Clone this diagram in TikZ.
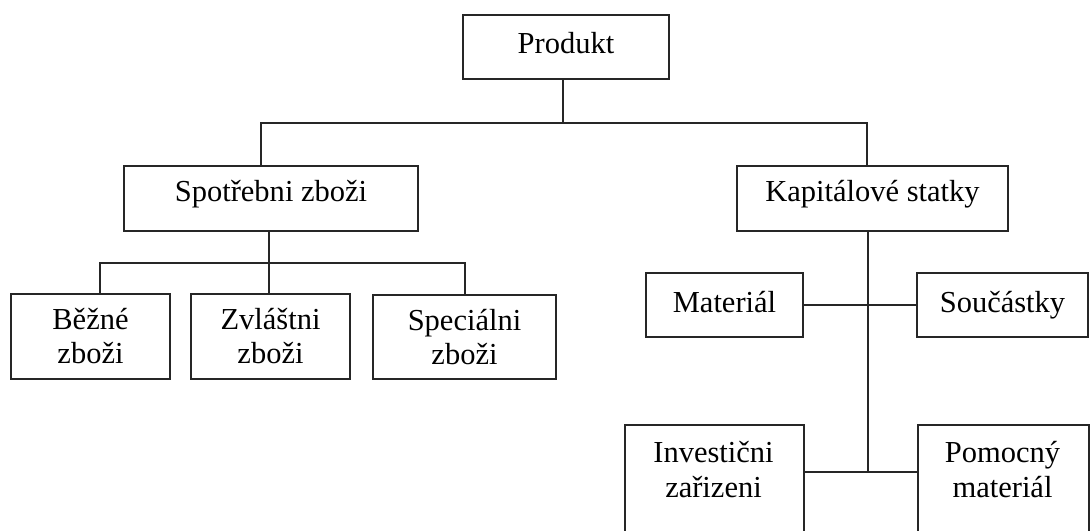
\documentclass[tikz,border=0pt]{standalone}
\usepackage{fontspec}
\setmainfont{Liberation Serif}
\tikzset{
  box/.style={draw=black!85, line width=2pt, rectangle, inner sep=0pt, align=center,
    font=\fontsize{30.5}{34}\selectfont},
  onebox/.style={box, text height=20pt, text depth=6pt},
  conn/.style={draw=black!85, line width=2pt},
  lbl/.style={inner sep=0pt, align=center, font=\fontsize{30.5}{35}\selectfont}
}
\begin{document}
\begin{tikzpicture}[x=1pt,y=-1pt]
\useasboundingbox (0,0) rectangle (1091,530);
\clip (0,0) rectangle (1091,530);
% boxes (corners from reference pixels)
\node[onebox, minimum width=206pt, minimum height=64pt] (prod) at (566,47) {\raisebox{1pt}{Produkt}};
\node[onebox, minimum width=294pt, minimum height=65pt] (spot) at (271,198.5) {\raisebox{4pt}{Spotřebni zboži}};
\node[onebox, minimum width=271pt, minimum height=65pt] (kap) at (872.5,198.5) {\raisebox{4pt}{Kapitálové statky}};
\node[box, minimum width=159pt, minimum height=85pt] (bez) at (90.5,336.5) {Běžné\\zboži};
\node[box, minimum width=159pt, minimum height=85pt] (zvl) at (270.5,336.5) {Zvláštni\\zboži};
\node[box, minimum width=183pt, minimum height=84pt] (spec) at (464.5,337) {Speciálni\\zboži};
\node[onebox, minimum width=157pt, minimum height=64pt] (mat) at (724.5,305) {Materiál};
\node[onebox, minimum width=171pt, minimum height=64pt] (sou) at (1002.5,305) {Součástky};
\node[box, minimum width=179pt, minimum height=140pt, anchor=north west] (inv) at (624,424) {};
\node[box, minimum width=171pt, minimum height=140pt, anchor=north west] (pom) at (917,424) {};
\node[lbl, anchor=base] (invt) at (713.5,497) {Investični\\zařizeni};
\node[lbl, anchor=base] (pomt) at (1002.5,497) {Pomocný\\materiál};
% junction points
\coordinate (top) at (563,123);
\coordinate (sj) at (269,263);
\coordinate (kj) at (868,472);
% connectors
\draw[conn] (prod.south -| top) -- (top);
\draw[conn] (spot.north -| 261,0) |- (top) -| (kap.north -| 867,0);
\draw[conn] (spot.south -| sj) -- (zvl.north -| sj);
\draw[conn] (bez.north -| 100,0) |- (sj) -| (spec.north -| 465,0);
\draw[conn] (kap.south -| kj) -- (kj);
\draw[conn] (mat.east) -- (sou.west);
\draw[conn] (inv.east |- kj) -- (pom.west |- kj);
\end{tikzpicture}
\end{document}
